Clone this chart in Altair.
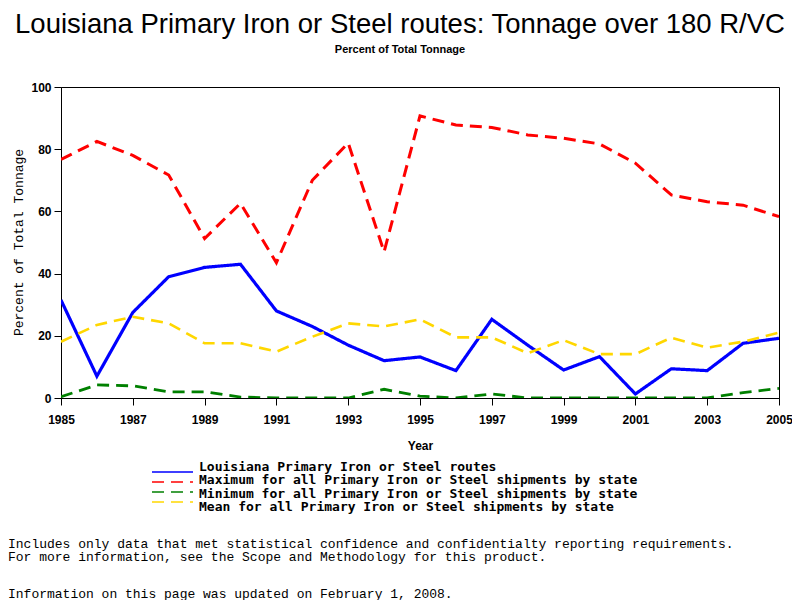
import altair as alt
import pandas as pd

years = list(range(1985, 2006))
louisiana = [31.5, 7, 27.5, 39, 42, 43, 28, 23, 17, 12, 13.2, 8.8, 25.3, 17, 9, 13.3, 1.3, 9.4, 8.8, 17.6, 19.2]
maximum = [76.7, 82.5, 78, 71.7, 51.3, 62.6, 43.5, 70, 82, 47, 90.7, 87.8, 87, 84.6, 83.5, 81.7, 75.5, 65.3, 63.1, 62, 58.3]
minimum = [0.4, 4.2, 3.9, 2, 2, 0.3, 0, 0, 0, 2.8, 0.6, 0, 1.3, 0, 0, 0, 0, 0, 0, 1.7, 3.1]
mean = [18.1, 23.5, 26.1, 24, 17.6, 17.6, 14.9, 19.7, 24, 23, 25.3, 19.5, 19.5, 14.4, 18.6, 14.1, 14.1, 19.4, 16.2, 18.1, 21]

series_names = [
    "Louisiana Primary Iron or Steel routes",
    "Maximum for all Primary Iron or Steel shipments by state",
    "Minimum for all Primary Iron or Steel shipments by state",
    "Mean for all Primary Iron or Steel shipments by state",
]
series_colors = ["#0000FF", "#FF0000", "#008000", "#FFD700"]
x_ticks = list(range(1985, 2006, 2))
y_ticks = [0, 20, 40, 60, 80, 100]

footnote1 = "Includes only data that met statistical confidence and confidentialty reporting requirements."
footnote2 = "For more information, see the Scope and Methodology for this product."
footnote3 = "Information on this page was updated on February 1, 2008."

rows = []
for name, vals in zip(series_names, [louisiana, maximum, minimum, mean]):
    for yr, v in zip(years, vals):
        rows.append({"Year": yr, "Percent": v, "Series": name})
df = pd.DataFrame(rows)

color_scale = alt.Scale(domain=series_names, range=series_colors)
dash_scale = alt.Scale(domain=series_names, range=[[1, 0], [12, 7], [12, 7], [12, 7]])

lines = alt.Chart(df).mark_line(clip=True).encode(
    x=alt.X("Year:Q",
            scale=alt.Scale(domain=[1985, 2005], nice=False, zero=False),
            axis=alt.Axis(values=x_ticks, format="d", title="Year", labelPadding=9,
                          labelFlush=False,
                          titleX=359, titleY=47, titleBaseline="middle")),
    y=alt.Y("Percent:Q",
            scale=alt.Scale(domain=[0, 100], nice=False),
            axis=alt.Axis(values=y_ticks, title="Percent of Total Tonnage",
                          titleX=-43, titleY=155, titleAngle=-90,
                          titleAlign="center", titleBaseline="middle",
                          titleFont="Liberation Mono", titleFontSize=13,
                          titleFontWeight="normal")),
    color=alt.Color("Series:N", scale=color_scale, legend=None),
    strokeDash=alt.StrokeDash("Series:N", scale=dash_scale, legend=None),
    strokeWidth=alt.StrokeWidth("Series:N",
                                scale=alt.Scale(domain=series_names, range=[3.2, 2.6, 2.6, 2.6]),
                                legend=None),
    order=alt.Order("Year:Q"),
)

legend_df = pd.DataFrame({"Series": series_names})
legend_y = alt.Y("Series:N", scale=alt.Scale(domain=series_names, range=[380, 420], padding=0),
                 axis=None)

legend_lines = alt.Chart(legend_df).mark_rule(strokeWidth=1.5).encode(
    x=alt.value(91), x2=alt.value(132), y=legend_y,
    color=alt.Color("Series:N", scale=color_scale, legend=None),
    strokeDash=alt.StrokeDash("Series:N", scale=dash_scale, legend=None),
)
legend_text = alt.Chart(legend_df).mark_text(
    align="left", baseline="middle", font="DejaVu Sans Mono", fontSize=13,
    fontWeight="bold", color="black"
).encode(x=alt.value(138), y=legend_y, text="Series:N")


def note(text, y):
    return alt.Chart(pd.DataFrame({"note": [text]})).mark_text(
        align="left", baseline="middle", font="Liberation Mono", fontSize=13, color="black"
    ).encode(x=alt.value(-53), y=alt.value(y), text="note:N")


chart = alt.layer(
    lines,
    legend_lines,
    legend_text,
    note(footnote1, 457),
    note(footnote2, 470),
    note(footnote3, 507),
).resolve_scale(
    y="independent"
).properties(
    width=718,
    height=311,
    autosize=alt.AutoSizeParams(type="none"),
    padding={"left": 53, "top": 79, "right": 13, "bottom": 205},
    background="white",
    title=alt.TitleParams(
        text="Louisiana Primary Iron or Steel routes: Tonnage over 180 R/VC",
        subtitle="Percent of Total Tonnage",
        font="Liberation Sans", fontSize=27.5, fontWeight="normal", color="black",
        subtitleFont="Liberation Sans", subtitleFontSize=11, subtitleFontWeight="bold",
        subtitleColor="black", subtitlePadding=6,
        anchor="middle", dx=-20, offset=26,
    ),
).configure_view(
    stroke="black", strokeWidth=1
).configure_axis(
    grid=False, domainColor="black", tickColor="black", labelColor="black",
    titleColor="black", tickSize=7, labelFont="Liberation Sans", labelFontSize=12,
    labelFontWeight="bold", titleFont="Liberation Sans", titleFontSize=12,
    titleFontWeight="bold", labelPadding=3, domainWidth=1, tickWidth=1,
)

chart.save("out.html", embed_options={"renderer": "svg", "actions": False})
